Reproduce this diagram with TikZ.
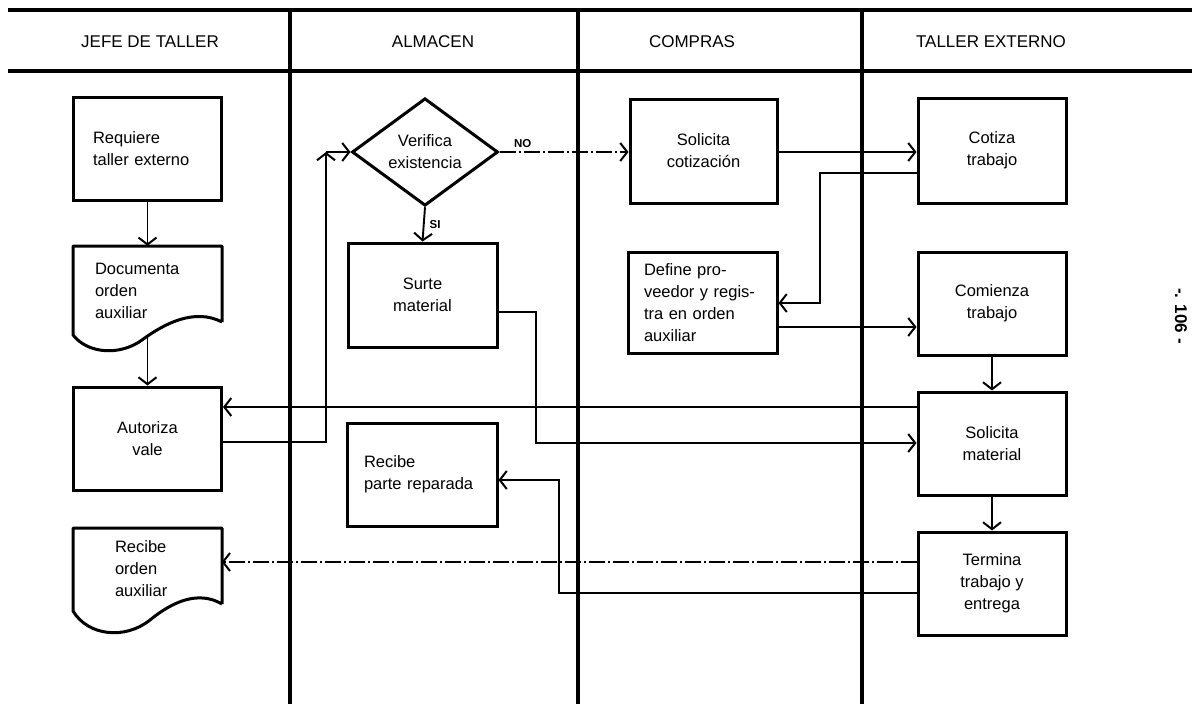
\documentclass[tikz,border=0pt]{standalone}
\usepackage{fontspec}
\setmainfont{Liberation Sans}
\usetikzlibrary{arrows.meta,shapes.geometric}
\begin{document}
\begin{tikzpicture}[x=1pt,y=-1pt,
  lane/.style={line width=3.2pt},
  box/.style={draw,line width=3pt,rectangle,minimum width=148pt,minimum height=103pt,
    inner sep=0pt,align=center,font=\fontsize{16.5}{22}\selectfont},
  lbox/.style={box,align=left,text width=#1},
  docnode/.style={rectangle,minimum width=148pt,inner sep=0pt,align=left,text width=#1,
    font=\fontsize{16.5}{22}\selectfont},
  docline/.style={line width=3pt,line join=round},
  conn/.style={line width=1.9pt},
  arr/.style={conn,-{Straight Barb[length=7pt,width=18pt,line width=2pt]}},
  dd/.style={dash pattern=on 16pt off 3pt on 2pt off 3pt},
  head/.style={font=\fontsize{17}{20}\selectfont},
  lbl/.style={font=\bfseries\fontsize{11.5}{12}\selectfont,inner sep=1pt}
]
\useasboundingbox (0,0) rectangle (1192,704);
% frame lines
\draw[lane] (8,10) -- (1192,10);
\draw[lane] (8,71) -- (1192,71);
\draw[lane] (290,10) -- (290,704);
\draw[lane] (578,10) -- (578,704);
\draw[lane] (862,10) -- (862,704);
% headers
\node[head] (h1) at (150,42) {JEFE DE TALLER};
\node[head] (h2) at (433,42) {ALMACEN};
\node[head] (h3) at (692,42) {COMPRAS};
\node[head] (h4) at (991,42) {TALLER EXTERNO};
% JEFE DE TALLER
\node[lbox=109pt] (req) at (147.5,149) {Requiere\\taller externo};
\node[docnode=105pt,minimum height=89pt] (doc1) at (147.5,290.5) {Documenta\\orden\\auxiliar};
\draw[docline] (222,322) -- (222,246) -- (73,246) -- (73,335)
  .. controls (88,354) and (120,356) .. (142,340)
  .. controls (165,323) and (195,308) .. (222,322);
\node[box] (aut) at (147.5,438.5) {Autoriza\\vale};
\node[docnode=65pt,minimum height=82pt] (doc2) at (147.5,569) {Recibe\\orden\\auxiliar};
\draw[docline] (222,604) -- (222,528) -- (73,528) -- (73,611)
  .. controls (88,636) and (125,640) .. (150,620)
  .. controls (172,602) and (198,590) .. (222,604);
% ALMACEN
\node[draw,line width=3pt,diamond,minimum width=146pt,minimum height=98pt,inner sep=0pt,
  align=center,font=\fontsize{16.5}{22}\selectfont] (dia) at (425,152) {Verifica\\existencia};
\node[box,minimum width=149pt,minimum height=104pt] (sur) at (422.5,295) {Surte\\material};
\node[lbox=116pt,minimum width=150pt] (rep) at (422,474.5) {Recibe\\parte reparada};
% COMPRAS
\node[box,minimum width=147pt,minimum height=104pt] (solc) at (703.5,151) {Solicita\\cotización};
\node[lbox=117pt,minimum width=149pt,minimum height=101pt] (def) at (702.5,302.5)
  {Define pro-\\veedor y regis-\\tra en orden\\auxiliar};
% TALLER EXTERNO
\node[box,minimum height=105pt] (cot) at (992,150.5) {Cotiza\\trabajo};
\node[box] (com) at (992,303.5) {Comienza\\trabajo};
\node[box] (solm) at (992,443.5) {Solicita\\material};
\node[box] (ter) at (992,583.5) {Termina\\trabajo y\\entrega};
% page number
\node[rotate=-90,font=\bfseries\fontsize{17}{19}\selectfont] (pg) at (1181,316) {-. 106 -};
% bend points
\coordinate (k1) at (326,442);
\coordinate (k2) at (326,152);
\coordinate (k3) at (536,312);
\coordinate (k4) at (536,443);
\coordinate (k5) at (820,173);
\coordinate (k6) at (820,303);
\coordinate (k7) at (850,327);
\coordinate (k8) at (700,407);
\coordinate (k9) at (700,562);
\coordinate (k10) at (559,593);
\coordinate (k11) at (559,480);
% connectors
\draw[arr] (req.south) -- (doc1.north);
\draw[arr] (doc1.south) -- (aut.north);
\draw[arr] (aut.east |- k1) -- (k1) -- (k2);
\draw[arr] (k2) -- (dia.west);
\draw[arr,dd] (dia.east) -- node[lbl,pos=0.18,above=2pt] {NO} (solc.west |- dia.east);
\draw[arr] (dia.south) -- node[lbl,right=4pt] {SI} (sur.north);
\draw[arr] (sur.east |- k3) -- (k3) -- (k4) -- (solm.west |- k4);
\draw[arr] (solc.east |- k2) -- (cot.west |- k2);
\draw[arr] (cot.west |- k5) -- (k5) -- (k6) -- (def.east |- k6);
\draw[arr] (def.east |- k7) -- (com.west |- k7);
\draw[arr] (com.south) -- (solm.north);
\draw[arr] (solm.west |- k8) -- (aut.east |- k8);
\draw[arr] (solm.south) -- (ter.north);
\draw[arr,dd] (ter.west |- k9) -- (doc2.east |- k9);
\draw[arr] (ter.west |- k10) -- (k10) -- (k11) -- (rep.east |- k11);
\end{tikzpicture}
\end{document}
